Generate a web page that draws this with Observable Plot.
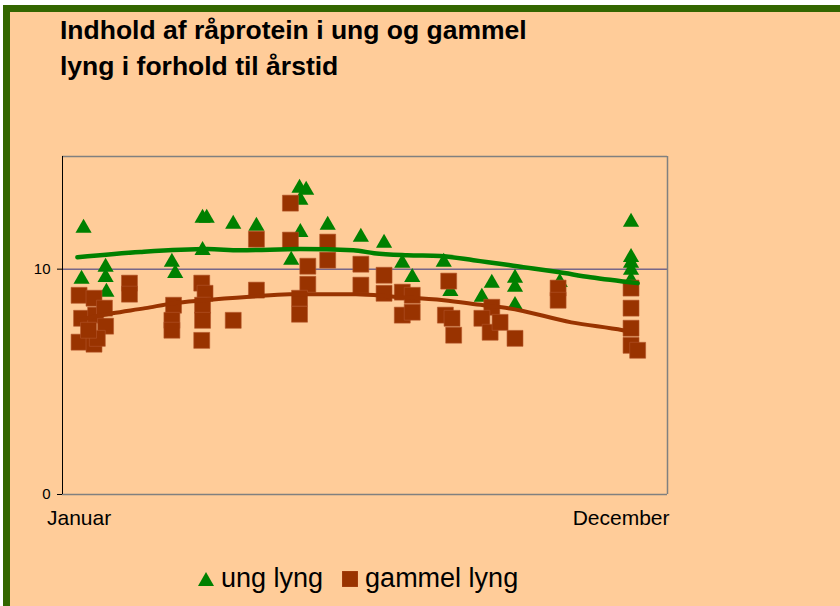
<!DOCTYPE html>
<html>
<head>
<meta charset="utf-8">
<script src="https://cdn.jsdelivr.net/npm/d3@7"></script>
<script src="https://cdn.jsdelivr.net/npm/@observablehq/plot@0.6"></script>
<style>
  html, body { margin: 0; padding: 0; background: #ffffff; }
  #wrap { position: relative; width: 840px; height: 606px; overflow: hidden; font-family: "Liberation Sans", Arial, sans-serif; }
  #card { position: absolute; left: 3px; top: 5px; width: 850px; height: 620px; background: #FFCC99;
          border-left: 7px solid #336600; border-top: 7px solid #336600; }
  #title { position: absolute; left: 60px; top: 12px; font-weight: bold; font-size: 26.5px; line-height: 36px; color: #000; }
  #chart { position: absolute; left: 0; top: 0; }
  #legend { position: absolute; left: 198px; top: 563px; font-size: 27px; color: #000; display: flex; align-items: center; white-space: nowrap; }
  #legend svg { margin-right: 7px; }
</style>
</head>
<body>
<div id="wrap">
  <div id="card"></div>
  <div id="title">Indhold af råprotein i ung og gammel<br>lyng i forhold til årstid</div>
  <div id="chart"></div>
  <div id="legend"></div>
</div>
<script>
// ---- data (x = day of year, y = råprotein) ----
const seriesNames = ["ung lyng", "gammel lyng"];
const xTickValues = [10, 337];
const xTickLabels = ["Januar", "December"];
const yTickValues = [0, 10];

const ungDag    = [12.7, 11.5, 26, 26, 26.5, 66, 68, 84.5, 87, 84.5, 103, 117, 138, 143, 147, 143.5, 143.5, 160, 180, 194, 205, 211, 230, 234, 253, 259, 273, 273, 273, 300, 343, 343, 343, 343, 343];
const ungVaerdi = [11.82, 9.56, 10.09, 9.64, 8.98, 10.31, 9.82, 12.27, 12.27, 10.84, 12.0, 11.91, 10.4, 13.6, 13.51, 13.07, 11.64, 11.96, 11.42, 11.16, 10.27, 9.64, 10.31, 9.02, 8.76, 9.38, 9.6, 9.2, 8.4, 9.42, 12.09, 10.53, 10.27, 9.96, 9.5];

const gammelDag    = [10, 19, 11.5, 20, 25.3, 26, 10, 19, 21, 15.7, 40.4, 40.4, 67, 66, 66, 84, 86, 84.5, 84.5, 84, 103, 117, 117, 137.5, 137.5, 148, 148, 143, 143, 160, 160, 180, 180, 194, 194, 205, 205, 211, 211, 233, 231, 235, 236, 259, 253, 258, 264, 273, 299, 299, 343, 343, 343, 343, 347];
const gammelVaerdi = [8.84, 8.71, 7.82, 7.96, 8.27, 7.47, 6.76, 6.67, 6.93, 7.29, 9.38, 8.89, 8.4, 7.73, 7.29, 9.38, 8.93, 8.4, 7.73, 6.84, 7.73, 11.33, 9.07, 12.93, 11.29, 10.13, 9.33, 8.71, 8.0, 11.2, 10.4, 10.22, 9.29, 9.73, 8.93, 8.98, 7.96, 8.84, 8.09, 9.47, 7.96, 7.82, 7.07, 8.31, 7.82, 7.2, 7.64, 6.93, 9.16, 8.62, 9.16, 8.27, 7.38, 6.62, 6.4];

const ungTrendDag    = [9, 47, 87.5, 107, 143.5, 175.5, 188, 208, 228, 248, 278, 299, 318.5, 347];
const ungTrendVaerdi = [10.53, 10.76, 10.89, 10.84, 10.89, 10.84, 10.71, 10.62, 10.58, 10.4, 10.09, 9.87, 9.64, 9.38];

const gammelTrendDag    = [10, 30, 50, 67, 85, 113, 137, 177, 200, 230, 254, 269, 307, 338, 343];
const gammelTrendVaerdi = [7.75, 8.04, 8.27, 8.49, 8.62, 8.78, 8.89, 8.89, 8.78, 8.62, 8.4, 8.27, 7.64, 7.29, 7.22];

// ---- build tables ----
const zip = (xs, ys) => xs.map((x, i) => ({x, y: ys[i]}));
const ung = zip(ungDag, ungVaerdi);
const gammel = zip(gammelDag, gammelVaerdi);
const ungTrend = zip(ungTrendDag, ungTrendVaerdi);
const gammelTrend = zip(gammelTrendDag, gammelTrendVaerdi);

const green = "#008000";
const brown = "#993300";

const chart = Plot.plot({
  width: 840,
  height: 606,
  marginLeft: 62,
  marginRight: 173,
  marginTop: 156,
  marginBottom: 112,
  style: {background: "transparent", color: "#000", fontFamily: "'Liberation Sans', Arial, sans-serif", overflow: "visible"},
  x: {domain: [0, 365]},
  y: {domain: [0, 15]},
  marks: [
    Plot.ruleY([10], {stroke: "#333380", strokeWidth: 1}),
    Plot.ruleY([15], {stroke: "#808080", strokeWidth: 1.5}),
    Plot.ruleX([365], {stroke: "#808080", strokeWidth: 1.5}),
    Plot.ruleY([0], {stroke: "#808080", strokeWidth: 1.5}),
    Plot.ruleX([0], {stroke: "#000", strokeWidth: 1}),
    Plot.dot(ung, {x: "x", y: "y", symbol: "triangle", r: 6, fill: green, stroke: "none"}),
    Plot.dot(gammel, {x: "x", y: "y", symbol: "square", r: 9, fill: brown, stroke: "#b4552a", strokeWidth: 0.6}),
    Plot.line(ungTrend, {x: "x", y: "y", stroke: green, strokeWidth: 4.5, curve: "monotone-x"}),
    Plot.line(gammelTrend, {x: "x", y: "y", stroke: brown, strokeWidth: 4, curve: "monotone-x"}),
    Plot.axisY({ticks: yTickValues, tickSize: 5, tickPadding: 7, fontSize: 15, label: null, stroke: "#000"}),
    Plot.axisX({ticks: xTickValues, tickFormat: (d, i) => xTickLabels[i], tickSize: 0, tickPadding: 16, fontSize: 21, label: null})
  ]
});
document.getElementById("chart").appendChild(chart);

// ---- legend ----
const legend = d3.select("#legend");
const items = [
  {name: seriesNames[0], shape: "triangle", color: green},
  {name: seriesNames[1], shape: "square", color: brown}
];
items.forEach((it, i) => {
  const s = legend.append("svg").attr("width", 16).attr("height", 16).style("margin-left", i ? "19px" : "0");
  if (it.shape === "triangle") s.append("path").attr("d", "M8,1L16,15L0,15Z").attr("fill", it.color);
  else s.append("rect").attr("x", 0).attr("y", 0).attr("width", 16).attr("height", 16).attr("fill", it.color).attr("stroke", "#b4552a").attr("stroke-width", 0.6);
  legend.append("span").text(it.name);
});
</script>
</body>
</html>
